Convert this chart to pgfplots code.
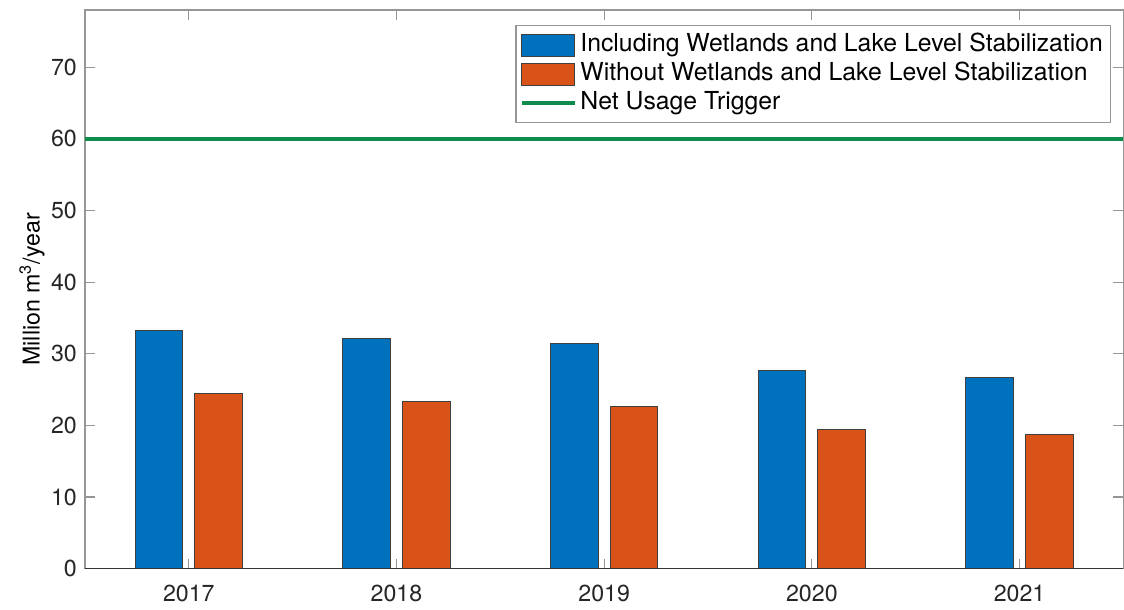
\documentclass[border=0pt]{standalone}
\usepackage{pgfplots}
\pgfplotsset{compat=1.18}
\usepackage{fontspec}
\setmainfont{TeX Gyre Heros}
\definecolor{mblue}{RGB}{0,114,189}
\definecolor{morange}{RGB}{217,83,25}
\definecolor{mgreen}{RGB}{16,139,78}
\definecolor{axgray}{RGB}{150,150,150}
\definecolor{txtgray}{RGB}{38,38,38}
\begin{document}
\fontsize{11.6}{14}\selectfont
\begin{tikzpicture}
\begin{axis}[
  scale only axis,
  width=519.5pt, height=279.5pt,
  xmin=0.5, xmax=5.5, ymin=0, ymax=78,
  xtick={1,2,3,4,5},
  xticklabels={2017,2018,2019,2020,2021},
  ytick={0,10,20,30,40,50,60,70},
  tick align=inside,
  major tick length=5pt,
  every tick/.style={axgray, line width=0.6pt},
  axis line style={axgray, line width=0.6pt},
  tick label style={font=\fontsize{11.6}{14}\selectfont, text=txtgray},
  xticklabel style={yshift=-4pt},
  /pgf/number format/assume math mode=true,
  ylabel={Million m\textsuperscript{3}/year},
  ylabel style={font=\fontsize{12.7}{15}\selectfont, text=txtgray},
  every axis y label/.style={at={(axis description cs:-0.051,0.5)}, anchor=center, rotate=90},
  legend cell align=left,
  legend style={at={(axis description cs:0.9885,0.973)}, anchor=north east,
    draw=axgray, line width=0.6pt, fill=white, inner xsep=2pt, inner ysep=2.5pt,
    font=\fontsize{12.4}{15}\selectfont, text=black,
    nodes={text height=8.8pt, text depth=2.7pt, inner ysep=1.5pt, inner xsep=2pt}},
]
\addplot[ybar, bar width=0.23, bar shift=-0.144, fill=mblue, draw=black!75, line width=0.5pt,
  legend image code/.code={\draw[fill=mblue, draw=black!75, line width=0.5pt] (0pt,-5.5pt) rectangle (26.5pt,5.5pt);}]
  coordinates {(1,33.2) (2,32.1) (3,31.4) (4,27.7) (5,26.7)};
\addlegendentry{Including Wetlands and Lake Level Stabilization}
\addplot[ybar, bar width=0.23, bar shift=0.144, fill=morange, draw=black!75, line width=0.5pt,
  legend image code/.code={\draw[fill=morange, draw=black!75, line width=0.5pt] (0pt,-5.5pt) rectangle (26.5pt,5.5pt);}]
  coordinates {(1,24.45) (2,23.4) (3,22.7) (4,19.5) (5,18.7)};
\addlegendentry{Without Wetlands and Lake Level Stabilization}
\addplot[mgreen, line width=1.7pt,
  legend image code/.code={\draw[mgreen, line width=1.7pt] (0pt,0pt) -- (26.5pt,0pt);}]
  coordinates {(0.5,60) (5.5,60)};
\addlegendentry{Net Usage Trigger}
\addplot[black!80, line width=0.6pt, forget plot] coordinates {(0.5,0) (5.5,0)};
\end{axis}
\path ([xshift=-42.5pt,yshift=-20.5pt]current axis.south west) rectangle ([yshift=5pt]current axis.north east);
\end{tikzpicture}
\end{document}
